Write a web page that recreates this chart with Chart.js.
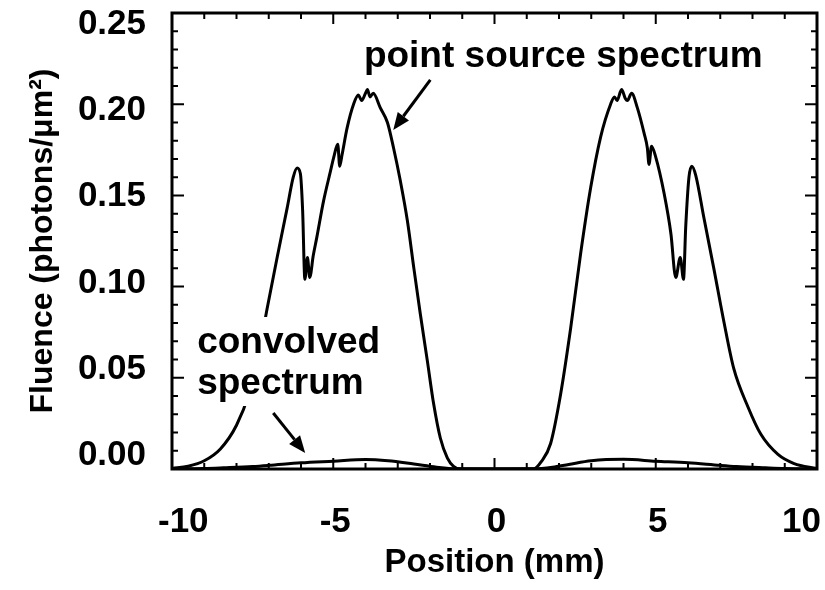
<!DOCTYPE html>
<html>
<head>
<meta charset="utf-8">
<script src="https://cdn.jsdelivr.net/npm/chart.js@4/dist/chart.umd.min.js"></script>
<style>
  html, body { margin: 0; padding: 0; background: #fff; }
  canvas { display: block; }
</style>
</head>
<body>
<canvas id="fluenceChart" width="825" height="590"></canvas>
<script>
// point source spectrum
const psX = [-10, -9.5, -9.0, -8.5, -8.0, -7.6, -7.3, -7.05, -6.74, -6.43, -6.24, -6.12, -6.02, -5.95, -5.88,
  -5.80, -5.73, -5.62, -5.51, -5.30, -5.09, -4.97, -4.86, -4.80, -4.73, -4.57, -4.37, -4.22, -4.12, -4.00,
  -3.94, -3.86, -3.76, -3.54, -3.32, -3.13, -2.92, -2.70, -2.50, -2.30, -2.08, -1.89, -1.68, -1.46, -1.27,
  -1.06, 0, 1.21, 1.45, 1.74, 2.05, 2.36, 2.67, 2.98, 3.29, 3.60, 3.72, 3.80, 3.94, 4.06,
  4.12, 4.25, 4.43, 4.64, 4.74, 4.79, 4.87, 5.00, 5.26, 5.47, 5.62, 5.76, 5.86, 5.93, 6.03,
  6.12, 6.24, 6.49, 6.80, 7.11, 7.42, 7.86, 8.26, 8.79, 9.29, 10];
const psY = [0.0003, 0.0015, 0.0045, 0.011, 0.024, 0.042, 0.064, 0.088, 0.116, 0.143, 0.160, 0.165, 0.162, 0.142, 0.104,
  0.116, 0.105, 0.117, 0.127, 0.147, 0.163, 0.172, 0.178, 0.166, 0.172, 0.187, 0.200, 0.205, 0.202, 0.206,
  0.208, 0.204, 0.206, 0.198, 0.190, 0.176, 0.158, 0.136, 0.110, 0.085, 0.059, 0.036, 0.017, 0.006, 0.0015,
  0, 0, 0, 0.004, 0.014, 0.041, 0.077, 0.118, 0.154, 0.182, 0.200, 0.204, 0.202, 0.208, 0.203,
  0.202, 0.206, 0.198, 0.184, 0.176, 0.167, 0.177, 0.171, 0.151, 0.129, 0.105, 0.116, 0.104, 0.133, 0.160,
  0.166, 0.161, 0.138, 0.110, 0.081, 0.055, 0.034, 0.019, 0.008, 0.003, 0.0003];

// convolved spectrum
const convX = [-10, -9, -8.4, -7.5, -7, -6, -5, -4, -3.3, -2.5, -1.8, -1.2, 0,
  1.2, 1.8, 2.3, 3.0, 4.0, 5.0, 6.0, 7.0, 7.5, 8.4, 9, 10];
const convY = [0, 0.0003, 0.0007, 0.0014, 0.002, 0.0034, 0.0043, 0.0052, 0.0045, 0.0027, 0.001, 0.0001, 0,
  0.0001, 0.001, 0.0025, 0.0045, 0.0053, 0.0043, 0.0034, 0.002, 0.0014, 0.0007, 0.0003, 0];

// axis labels
const xTickLabels = [-10, -5, 0, 5, 10];
const yTickLabels = [0, 0.05, 0.10, 0.15, 0.20, 0.25];
const xTitle = 'Position (mm)';
const yTitle = 'Fluence (photons/\u03bcm\u00b2)';

// annotations (text anchor and arrows in data units)
const psLabel = { text: 'point source spectrum', x: -4.05, y: 0.2204 };
const convLabel = { lines: ['convolved', 'spectrum'], x: -9.22, y: [0.0636, 0.0411] };
const psArrow = { from: [-1.99, 0.2133], to: [-3.14, 0.1859] };
const convArrow = { from: [-6.86, 0.0307], to: [-5.87, 0.0088] };

const FONT = '"Liberation Sans", Arial, sans-serif';

function toPoints(xs, ys) {
  return xs.map((x, i) => ({ x: x, y: ys[i] }));
}

function drawArrow(ctx, x1, y1, x2, y2) {
  const ang = Math.atan2(y2 - y1, x2 - x1);
  const len = 17, half = 7;
  const bx = x2 - len * Math.cos(ang), by = y2 - len * Math.sin(ang);
  ctx.beginPath();
  ctx.moveTo(x1, y1);
  ctx.lineTo(bx, by);
  ctx.stroke();
  ctx.beginPath();
  ctx.moveTo(x2, y2);
  ctx.lineTo(bx + half * Math.sin(ang), by - half * Math.cos(ang));
  ctx.lineTo(bx - half * Math.sin(ang), by + half * Math.cos(ang));
  ctx.closePath();
  ctx.fill();
}

const framePlugin = {
  id: 'framePlugin',
  afterDatasetsDraw(chart) {
    const ctx = chart.ctx;
    const xs = chart.scales.x, ys = chart.scales.y;
    ctx.save();
    ctx.fillStyle = '#000';
    ctx.strokeStyle = '#000';
    ctx.lineWidth = 3;
    ctx.font = 'bold 37px ' + FONT;
    ctx.textAlign = 'left';
    ctx.textBaseline = 'alphabetic';

    // convolved spectrum label sits on a white box (hides the curve behind it)
    const cx = xs.getPixelForValue(convLabel.x);
    convLabel.lines.forEach((line, i) => {
      const by = ys.getPixelForValue(convLabel.y[i]);
      const w = ctx.measureText(line).width;
      ctx.fillStyle = '#fff';
      ctx.fillRect(cx - 4, by - 36, w + 8, 48);
    });
    ctx.fillStyle = '#000';
    convLabel.lines.forEach((line, i) => {
      ctx.fillText(line, cx, ys.getPixelForValue(convLabel.y[i]));
    });

    ctx.fillText(psLabel.text, xs.getPixelForValue(psLabel.x), ys.getPixelForValue(psLabel.y));

    [psArrow, convArrow].forEach(a => {
      drawArrow(ctx,
        xs.getPixelForValue(a.from[0]), ys.getPixelForValue(a.from[1]),
        xs.getPixelForValue(a.to[0]), ys.getPixelForValue(a.to[1]));
    });
    ctx.restore();
  },
  afterDraw(chart) {
    const ctx = chart.ctx;
    const area = chart.chartArea;
    const xs = chart.scales.x, ys = chart.scales.y;
    ctx.save();
    ctx.strokeStyle = '#000';
    ctx.lineWidth = 2;

    // inward ticks on all four sides
    ctx.beginPath();
    for (let v = -10; v <= 10; v++) {
      const px = xs.getPixelForValue(v);
      const len = v % 5 === 0 ? 11 : 6;
      ctx.moveTo(px, area.bottom); ctx.lineTo(px, area.bottom - len);
      ctx.moveTo(px, area.top); ctx.lineTo(px, area.top + len);
    }
    for (let i = 0; i <= 25; i++) {
      const py = ys.getPixelForValue(i / 100);
      const len = i % 5 === 0 ? 12 : 6;
      ctx.moveTo(area.left, py); ctx.lineTo(area.left + len, py);
      ctx.moveTo(area.right, py); ctx.lineTo(area.right - len, py);
    }
    ctx.stroke();

    ctx.lineWidth = 3;
    ctx.strokeRect(area.left, area.top, area.right - area.left, area.bottom - area.top);

    // tick labels
    ctx.fillStyle = '#000';
    ctx.font = 'bold 35px ' + FONT;
    ctx.textBaseline = 'alphabetic';
    ctx.textAlign = 'center';
    xTickLabels.forEach(v => {
      const w = ctx.measureText(String(v)).width;
      let px = xs.getPixelForValue(v) + 2;
      px = Math.min(px, chart.width - w / 2 - 4);
      px = Math.max(px, area.left - 10 + w / 2 - 4);
      ctx.fillText(String(v), px, area.bottom + 63);
    });
    ctx.textAlign = 'right';
    const mid = (area.top + area.bottom) / 2;
    yTickLabels.forEach(v => {
      const py = ys.getPixelForValue(v);
      const cy = mid - 4 + (py - mid) * 0.943;
      ctx.fillText(v.toFixed(2), area.left - 26, cy + 12.5);
    });
    ctx.restore();
  }
};

new Chart(document.getElementById('fluenceChart').getContext('2d'), {
  type: 'line',
  data: {
    datasets: [
      {
        label: 'point source spectrum',
        data: toPoints(psX, psY),
        borderColor: '#000',
        borderWidth: 3,
        pointRadius: 0,
        fill: false,
        cubicInterpolationMode: 'monotone'
      },
      {
        label: 'convolved spectrum',
        data: toPoints(convX, convY),
        borderColor: '#000',
        borderWidth: 3,
        pointRadius: 0,
        fill: false,
        cubicInterpolationMode: 'monotone'
      }
    ]
  },
  options: {
    responsive: false,
    animation: false,
    devicePixelRatio: 1,
    layout: { padding: { top: 13, right: 8, left: 0, bottom: 0 } },
    plugins: { legend: { display: false }, tooltip: { enabled: false } },
    scales: {
      x: {
        type: 'linear',
        min: -10,
        max: 10,
        grid: { display: false, drawTicks: false },
        border: { display: false },
        ticks: { display: false },
        title: {
          display: true,
          text: xTitle,
          color: '#000',
          font: { family: FONT, size: 33, weight: 'bold' },
          padding: { top: 0, bottom: 7 }
        },
        afterFit: s => { s.height = 121; s.paddingLeft = 0; s.paddingRight = 0; }
      },
      y: {
        type: 'linear',
        min: 0,
        max: 0.25,
        grid: { display: false, drawTicks: false },
        border: { display: false },
        ticks: { display: false },
        title: {
          display: true,
          text: yTitle,
          color: '#000',
          font: { family: FONT, size: 32, weight: 'bold' },
          padding: { top: 24, bottom: 0 }
        },
        afterFit: s => { s.width = 172; s.paddingTop = 0; s.paddingBottom = 0; }
      }
    }
  },
  plugins: [framePlugin]
});
</script>
</body>
</html>
